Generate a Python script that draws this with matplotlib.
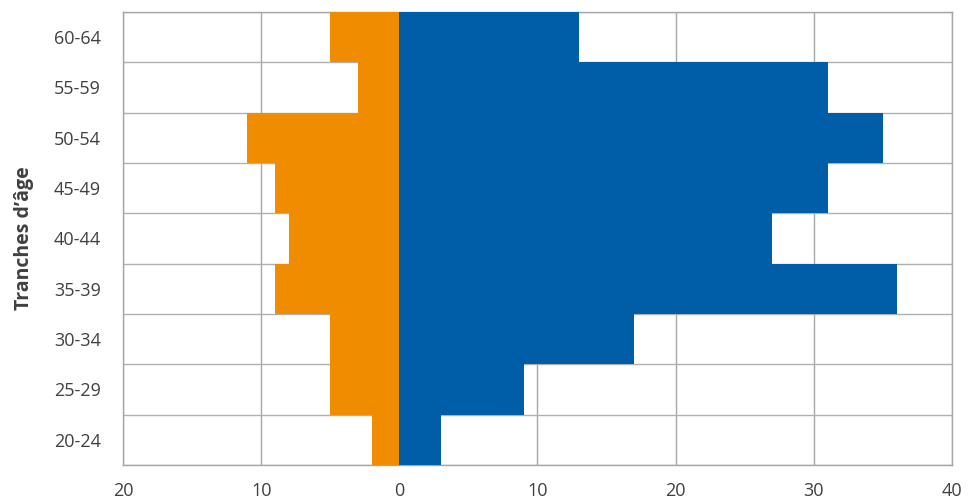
import numpy as np
import matplotlib.pyplot as plt
from matplotlib.ticker import FuncFormatter

plt.rcParams['font.family'] = ['Open Sans', 'DejaVu Sans']

# tranches d'âge, effectifs par côté
ages = ['20-24', '25-29', '30-34', '35-39', '40-44', '45-49', '50-54', '55-59', '60-64']
gauche = [2, 5, 5, 9, 8, 9, 11, 3, 5]
droite = [3, 9, 17, 36, 27, 31, 35, 31, 13]
xticks = [-20, -10, 0, 10, 20, 30, 40]

fig = plt.figure(figsize=(9.7, 4.98), dpi=100)
ax = fig.add_axes([0.1268, 0.0663, 0.8546, 0.9096])

y = np.arange(len(ages))
ax.barh(y, [-v for v in gauche], height=1.0, color='#F08C00', zorder=3)
ax.barh(y, droite, height=1.0, color='#005EA8', zorder=3)

ax.set_xlim(-20, 40)
ax.set_ylim(-0.5, len(ages) - 0.5)
ax.set_xticks(xticks)
ax.xaxis.set_major_formatter(FuncFormatter(lambda v, p: f'{abs(int(v))}'))
ax.set_yticks(y)
ax.set_yticklabels(ages)
ax.set_yticks(np.arange(len(ages) + 1) - 0.5, minor=True)

ax.grid(axis='x', which='major', color='#a6a6a6', linewidth=1, zorder=0)
ax.grid(axis='y', which='minor', color='#b0b0b0', linewidth=1, zorder=0)
ax.tick_params(which='both', length=0)
ax.tick_params(axis='x', labelsize=13, labelcolor='#404040', pad=12)
ax.tick_params(axis='y', labelsize=13, labelcolor='#404040', pad=16)
for s in ax.spines.values():
    s.set_color('#a6a6a6')
    s.set_linewidth(1)

ax.set_ylabel("Tranches d’âge", fontsize=14, fontweight='bold', color='#404040', labelpad=14)

fig.savefig('out.png', dpi=100)
